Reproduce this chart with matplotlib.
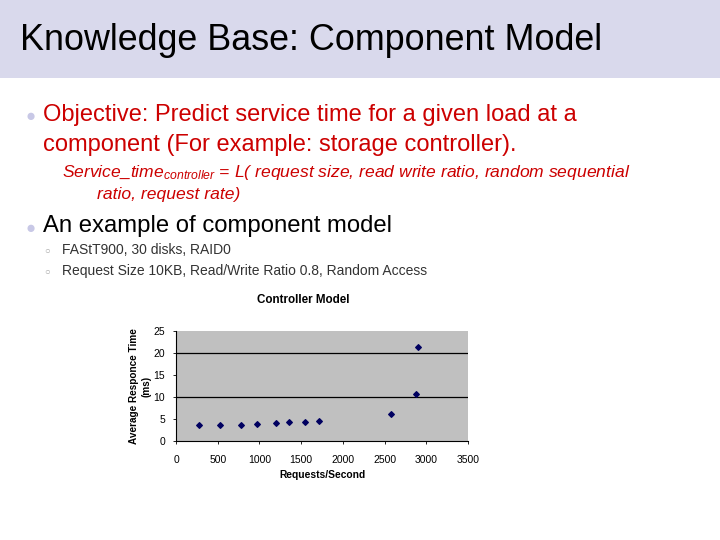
import matplotlib
matplotlib.use("Agg")
import matplotlib.pyplot as plt
from matplotlib.patches import Rectangle

plt.rcParams['font.family'] = ['Liberation Sans', 'DejaVu Sans']
plt.rcParams['mathtext.fontset'] = 'custom'
plt.rcParams['mathtext.it'] = 'Liberation Sans:italic'
plt.rcParams['mathtext.rm'] = 'Liberation Sans'

# data
requests_per_sec = [272, 532, 776, 976, 1200, 1352, 1544, 1712, 2572, 2880, 2904]
resp_time_ms = [3.56, 3.56, 3.71, 3.94, 4.17, 4.32, 4.32, 4.47, 6.2, 10.6, 21.4]
xticks = [0, 500, 1000, 1500, 2000, 2500, 3000, 3500]
yticks = [0, 5, 10, 15, 20, 25]
gridlines = [10, 20]

W, H = 720, 540
fig = plt.figure(figsize=(7.2, 5.4), dpi=100)

def px(x, y):
    return x / W, 1 - y / H

# title band
fig.patches.append(Rectangle((0, 1 - 78 / H), 1, 78 / H, transform=fig.transFigure,
                             facecolor='#d9d9ec', edgecolor='none', zorder=0))
fig.text(*px(20, 40), 'Knowledge Base: Component Model', fontsize=25.8,
         va='center', ha='left', color='black')

red = '#cc0000'
bullet = '#c8c8e6'

# first bullet
fig.text(*px(31, 117), '\u25cf', fontsize=12, color=bullet, va='center', ha='center')
fig.text(*px(43, 115), 'Objective: Predict service time for a given load at a',
         fontsize=17, color=red, va='center')
fig.text(*px(43, 145), 'component (For example: storage controller).',
         fontsize=17, color=red, va='center')
fig.text(*px(62, 173), r'Service_time$_{\mathit{controller}}$ = L( request size, read write ratio, random sequential',
         fontsize=12.6, color=red, style='italic', va='center')
fig.text(*px(97, 194), 'ratio, request rate)', fontsize=12.6, color=red,
         style='italic', va='center')

# second bullet
fig.text(*px(31, 228), '\u25cf', fontsize=12, color=bullet, va='center', ha='center')
fig.text(*px(43, 226), 'An example of component model', fontsize=17.2,
         color='black', va='center')
fig.text(*px(47, 251), '\u25cb', fontsize=7, color='#aaaaaa', va='center', ha='center')
fig.text(*px(62, 250), 'FAStT900, 30 disks, RAID0', fontsize=10,
         color='#333333', va='center')
fig.text(*px(47, 272), '\u25cb', fontsize=7, color='#aaaaaa', va='center', ha='center')
fig.text(*px(62, 271), 'Request Size 10KB, Read/Write Ratio 0.8, Random Access',
         fontsize=10, color='#333333', va='center')

# chart
ax = fig.add_axes([176 / W, 1 - 441 / H, 292 / W, 110 / H])
ax.set_facecolor('#c0c0c0')
ax.scatter(requests_per_sec, resp_time_ms, marker='D', s=8, color='#000060', zorder=3)
for g in gridlines:
    ax.axhline(g, color='black', linewidth=0.9, zorder=1)
ax.set_xlim(0, 3500)
ax.set_ylim(0, 25)
ax.set_xticks(xticks)
ax.set_yticks(yticks)
ax.tick_params(labelsize=7.5, length=2, width=0.6, colors='black', pad=6)
ax.tick_params(axis='x', pad=8)
for s in ['top', 'right']:
    ax.spines[s].set_visible(False)
for s in ['left', 'bottom']:
    ax.spines[s].set_linewidth(0.8)
ax.set_xlabel('Requests/Second', fontsize=7.4, fontweight='bold', labelpad=4)
ax.set_ylabel('Average Responce Time\n(ms)', fontsize=7.2, fontweight='bold',
              labelpad=1, linespacing=1.3)
fig.text(*px(303, 300), 'Controller Model', fontsize=8.4, fontweight='bold',
         ha='center', va='center')

fig.savefig('out.png', dpi=100, facecolor='white')
